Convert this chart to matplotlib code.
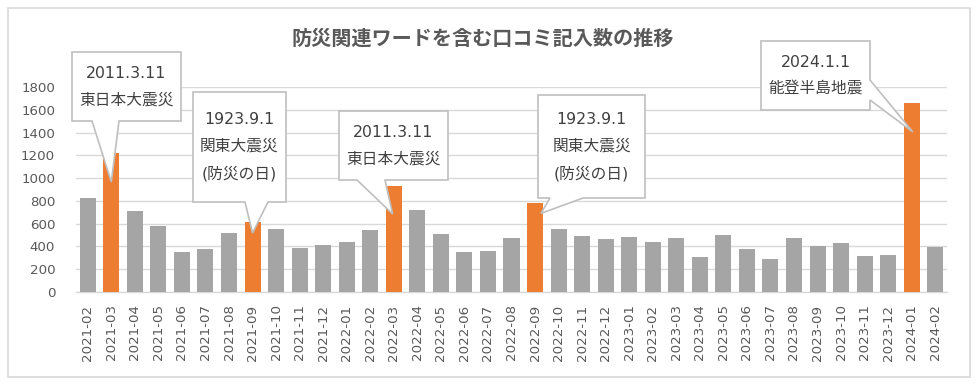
import matplotlib
matplotlib.use("Agg")
import matplotlib.pyplot as plt
from matplotlib.patches import Polygon, Rectangle
from matplotlib.transforms import IdentityTransform

# DejaVu for Latin/digits (Verdana-like, close to Meiryo), Noto CJK for Japanese
plt.rcParams["font.family"] = ["DejaVu Sans", "Noto Sans CJK JP"]

# ---- data ----
months = [
    "2021-02", "2021-03", "2021-04", "2021-05", "2021-06", "2021-07", "2021-08",
    "2021-09", "2021-10", "2021-11", "2021-12", "2022-01", "2022-02", "2022-03",
    "2022-04", "2022-05", "2022-06", "2022-07", "2022-08", "2022-09", "2022-10",
    "2022-11", "2022-12", "2023-01", "2023-02", "2023-03", "2023-04", "2023-05",
    "2023-06", "2023-07", "2023-08", "2023-09", "2023-10", "2023-11", "2023-12",
    "2024-01", "2024-02",
]
counts = [
    823, 1218, 711, 580, 351, 377, 518, 615, 553, 386, 413, 439, 544, 931,
    720, 509, 351, 360, 474, 781, 553, 492, 465, 483, 439, 474, 307, 500,
    377, 290, 474, 404, 430, 316, 325, 1659, 395,
]
highlight = ["2021-03", "2021-09", "2022-03", "2022-09", "2024-01"]

callout_texts = [
    "2011.3.11\n東日本大震災",
    "1923.9.1\n関東大震災\n(防災の日)",
    "2011.3.11\n東日本大震災",
    "1923.9.1\n関東大震災\n(防災の日)",
    "2024.1.1\n能登半島地震",
]
callout_months = ["2021-03", "2021-09", "2022-03", "2022-09", "2024-01"]
# where the pointer touches the bar (value units)
callout_tip_y = [966, 518, 685, 690, 1405]
callout_tip_dx = [0.0, 0.0, -0.05, 0.25, 0.05]

W, H = 979, 386
GRAY = "#a5a5a5"
ORANGE = "#ed7d31"
TXT = "#595959"
LINE = "#d9d9d9"

fig = plt.figure(figsize=(W / 100, H / 100), dpi=100)
ax = fig.add_axes([76 / W, 1 - 292 / H, (947 - 76) / W, (292 - 87) / H])

x = list(range(len(months)))
colors = [ORANGE if m in highlight else GRAY for m in months]
ax.bar(x, counts, width=0.68, color=colors, zorder=3)

ax.set_xlim(-0.5, len(months) - 0.5)
ax.set_ylim(0, 1800)
ax.set_yticks(range(0, 1801, 200))
ax.set_xticks(x)
ax.set_xticklabels(months, rotation=90)
ax.tick_params(axis="y", length=0, pad=15, labelsize=9.6, labelcolor=TXT)
ax.tick_params(axis="x", length=0, pad=9, labelsize=9.6, labelcolor=TXT)
ax.grid(axis="y", color=LINE, linewidth=1, zorder=0)
for s in ["top", "right", "left"]:
    ax.spines[s].set_visible(False)
ax.spines["bottom"].set_color(LINE)
ax.spines["bottom"].set_linewidth(1)

# outer border
fig.add_artist(Rectangle((8 / W, 1 - 377 / H), 962 / W, 369 / H,
                         transform=fig.transFigure, fill=False,
                         edgecolor=LINE, linewidth=1.2))

fig.text(483 / W, 1 - 38 / H, "防災関連ワードを含む口コミ記入数の推移",
         ha="center", va="center", fontsize=14.5, fontweight="bold", color=TXT,
         family=["Noto Sans CJK JP", "DejaVu Sans"])

# ---- callout boxes (pixel layout, top-left origin) ----
# (left, top, right, bottom, side, base_a, base_b)
boxes = [
    (72, 52, 181, 121, "bottom", 92, 119),
    (193, 92, 286, 202, "bottom", 245, 268),
    (339, 111, 448, 180, "bottom", 357, 385),
    (538, 95, 645, 198, "bottom", 550, 583),
    (761, 41, 870, 110, "right", 80, 100),
]

fig.canvas.draw()
for (l, t, r, b, side, a1, a2), txt, m, ty, dx in zip(
        boxes, callout_texts, callout_months, callout_tip_y, callout_tip_dx):
    tip = ax.transData.transform((months.index(m) + dx, ty))
    L, R, T, B = l, r, H - t, H - b
    if side == "bottom":
        verts = [(L, T), (R, T), (R, B), (a2, B), tuple(tip), (a1, B), (L, B)]
    else:
        verts = [(L, T), (R, T), (R, H - a1), tuple(tip), (R, H - a2), (R, B), (L, B)]
    fig.add_artist(Polygon(verts, closed=True, transform=IdentityTransform(),
                           facecolor="white", edgecolor="#bfbfbf",
                           linewidth=1.2, zorder=5))
    fig.text((l + r) / 2 / W, 1 - (t + b) / 2 / H, txt, ha="center",
             va="center", fontsize=11.3, color="#404040", linespacing=1.95,
             zorder=6)

fig.savefig("out.png", dpi=100)
plt.close(fig)
